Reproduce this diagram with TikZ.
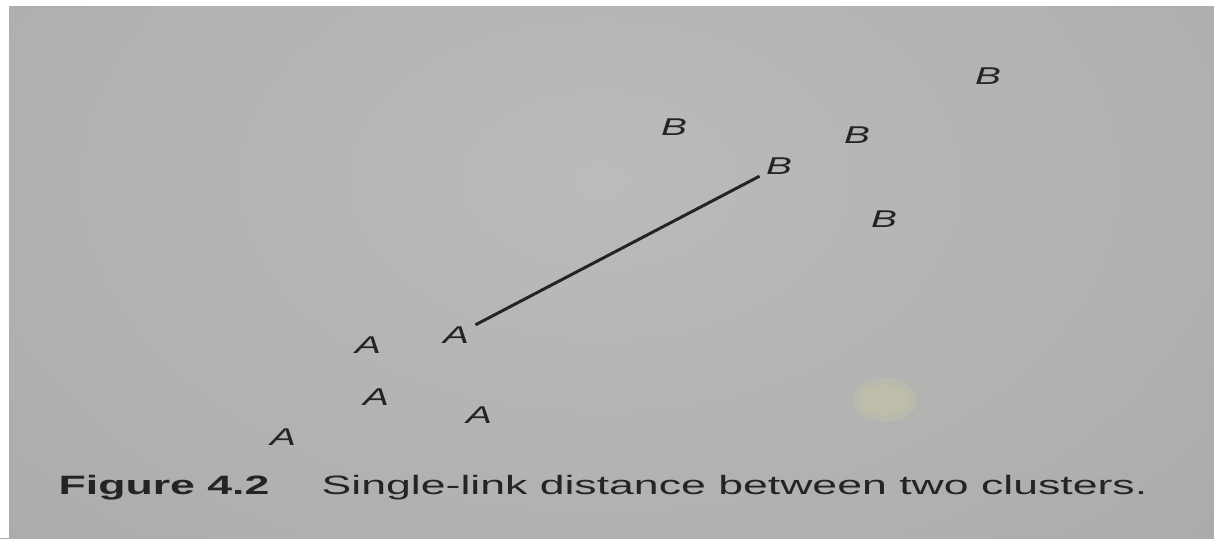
\documentclass[tikz,border=0pt]{standalone}
\usepackage{fontspec}
\usepackage{graphicx}
\setmainfont{Liberation Sans}
\definecolor{pc1}{HTML}{BABCBA}
\definecolor{pc2}{HTML}{AEB0AE}
\definecolor{pc3}{HTML}{A0A3A0}
\definecolor{pc4}{HTML}{939693}
\definecolor{ink}{HTML}{242424}
\definecolor{stain}{HTML}{C8C6A6}
\pgfdeclareradialshading{paper}{\pgfpoint{0bp}{0bp}}{color(0bp)=(pc1); color(22bp)=(pc2); color(40bp)=(pc3); color(55bp)=(pc4); color(75bp)=(pc4)}
\tikzset{
  ptlabel/.style={inner sep=0pt, text=ink, font=\fontsize{6.9pt}{8pt}\selectfont\itshape},
  captext/.style={inner sep=0pt, text=ink, anchor=base west, font=\fontsize{7.55pt}{9pt}\selectfont},
}
\newcommand{\wide}[2]{\scalebox{#1}[1]{#2}}
\begin{document}
\begin{tikzpicture}[x=0.01cm,y=-0.01cm]
\useasboundingbox (0,0) rectangle (1214,538);
\begin{scope}
\clip (0,0) rectangle (1214,538);
\shade[shading=paper] (-150,-300) rectangle (1350,660);
\fill[white] (0,0) rectangle (9,538);
\fill[white] (0,0) rectangle (1214,6);
\fill[stain, opacity=0.35] (885,400) ellipse [x radius=32, y radius=22];
\fill[stain, opacity=0.3] (885,400) ellipse [x radius=24, y radius=15];
\end{scope}
% cluster A
\node[ptlabel] (A1) at (368,345) {\wide{1.6}{A}};
\node[ptlabel] (A2) at (456,335) {\wide{1.6}{A}};
\node[ptlabel] (A3) at (376,397) {\wide{1.6}{A}};
\node[ptlabel] (A4) at (479,415) {\wide{1.6}{A}};
\node[ptlabel] (A5) at (283,437) {\wide{1.6}{A}};
% cluster B
\node[ptlabel] (B1) at (988,76) {\wide{1.6}{B}};
\node[ptlabel] (B2) at (674,127) {\wide{1.6}{B}};
\node[ptlabel] (B3) at (857,135) {\wide{1.6}{B}};
\node[ptlabel] (B4) at (779,166) {\wide{1.6}{B}};
\node[ptlabel] (B5) at (884,219) {\wide{1.6}{B}};
% single link
\draw[ink, line width=0.85pt, shorten <=0.22cm, shorten >=0.22cm] (A2.center) -- (B4.center);
% caption
\node[captext] (fig) at (58,494) {\wide{1.68}{\bfseries Figure 4.2}};
\node[captext] (cap2) at (321,494) {\wide{1.68}{Single-link distance between two clusters.}};
\end{tikzpicture}
\end{document}
